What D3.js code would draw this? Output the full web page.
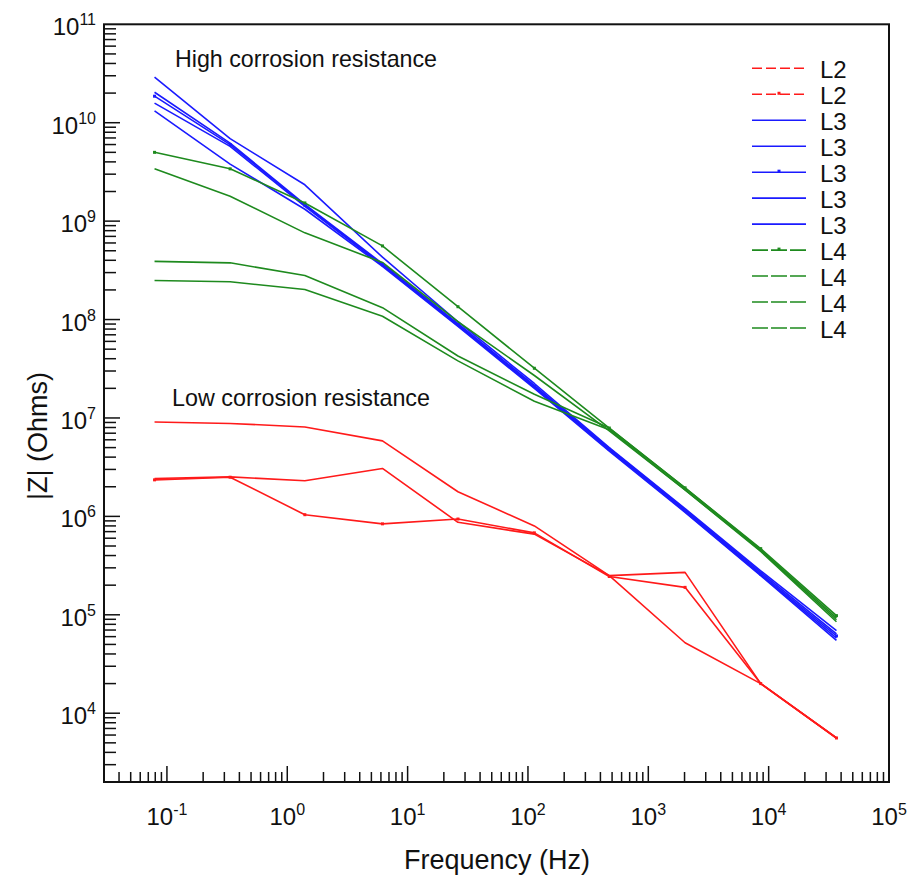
<!DOCTYPE html>
<html>
<head>
<meta charset="utf-8">
<script src="https://cdnjs.cloudflare.com/ajax/libs/d3/7.8.5/d3.min.js"></script>
<style>
	body { margin: 0; background: #fff; }
	text { font-family: "Liberation Sans", Arial, sans-serif; fill: #111; }
</style>
</head>
<body>
<svg id="chart" width="911" height="879"></svg>
<script>

// frequency points (Hz), shared by every curve
var freqs = [0.0789, 0.335, 1.40, 6.18, 26.2, 113, 474, 2020, 8590, 36600];

// |Z| (Ohms)
var l2a = [9.1e6, 8.8e6, 8.1e6, 5.85e6, 1.78e6, 8.0e5, 2.5e5, 5.2e4, 2.0e4, 5.6e3];
var l2b = [2.43e6, 2.52e6, 2.30e6, 3.07e6, 8.7e5, 6.6e5, 2.5e5, 2.7e5, 2.0e4, 5.6e3];
var l2c = [2.35e6, 2.5e6, 1.04e6, 8.4e5, 9.4e5, 6.8e5, 2.45e5, 1.9e5, 2.0e4, 5.6e3];

var l3a = [2.9e10, 6.9e9, 2.34e9, 4.3e8, 9.5e7, 2.24e7, 5.0e6, 1.2e6, 2.8e5, 6.9e4];
var l3b = [2.04e10, 6.2e9, 1.48e9, 3.7e8, 9.1e7, 2.14e7, 4.9e6, 1.17e6, 2.7e5, 6.4e4];
var l3c = [1.86e10, 6.0e9, 1.45e9, 3.6e8, 8.9e7, 2.1e7, 4.8e6, 1.15e6, 2.6e5, 6.1e4];
var l3d = [1.58e10, 5.75e9, 1.41e9, 3.55e8, 8.7e7, 2.04e7, 4.7e6, 1.12e6, 2.55e5, 5.8e4];
var l3e = [1.32e10, 3.8e9, 1.32e9, 3.47e8, 8.5e7, 2.0e7, 4.6e6, 1.1e6, 2.5e5, 5.5e4];

var l4a = [5.0e9, 3.4e9, 1.53e9, 5.6e8, 1.35e8, 3.2e7, 7.9e6, 1.95e6, 4.7e5, 9.8e4];
var l4b = [3.4e9, 1.79e9, 7.6e8, 3.8e8, 9.5e7, 2.7e7, 7.4e6, 1.86e6, 4.5e5, 8.9e4];
var l4c = [3.9e8, 3.77e8, 2.8e8, 1.32e8, 4.26e7, 1.74e7, 7.9e6, 1.95e6, 4.6e5, 9.3e4];
var l4d = [2.49e8, 2.42e8, 2.02e8, 1.08e8, 3.8e7, 1.48e7, 7.6e6, 1.86e6, 4.4e5, 8.5e4];

var seriesGroups = ["L2", "L2", "L2", "L3", "L3", "L3", "L3", "L3", "L4", "L4", "L4", "L4"];
var seriesValues = [l2a, l2b, l2c, l3a, l3b, l3c, l3d, l3e, l4a, l4b, l4c, l4d];

// legend as printed in the figure
var legendLabels = ["L2", "L2", "L3", "L3", "L3", "L3", "L3", "L4", "L4", "L4", "L4"];

var xExponents = [-1, 0, 1, 2, 3, 4, 5];
var yExponents = [4, 5, 6, 7, 8, 9, 10, 11];

var xTitle = "Frequency (Hz)";
var yTitle = "|Z| (Ohms)";
var noteHigh = "High corrosion resistance";
var noteLow = "Low corrosion resistance";

(function () {

	var colors = { "L2": "#ff1a1a", "L3": "#1a1aff", "L4": "#1e8a1e" };
	var legendDash = { "L2": "10,4", "L3": null, "L4": "16,3" };
	var markerRows = [1, 4, 7]; // legend rows drawn with a small dot
	var markerSeries = [2, 5, 8]; // curves drawn with dots at their points

	var m = { left: 104, right: 889, top: 24.3, bottom: 782 };

	var svg = d3.select("#chart");

	var x = d3.scaleLog().domain([0.03, 1e5]).range([m.left, m.right]);
	var y = d3.scaleLog().domain([2000, 1e11]).range([m.bottom, m.top]);

	function isMajor(d) {
		var l = Math.log10(d);
		return Math.abs(l - Math.round(l)) < 1e-6;
	}

	// ticks (inward, bottom and left only)
	var ticks = svg.append("g").attr("stroke", "#111").attr("stroke-width", 1.5);

	ticks.selectAll("line.xt")
		.data(x.ticks().filter(function (d) { return x(d) > m.left + 1 && x(d) < m.right - 1; }))
		.enter().append("line")
		.attr("class", "xt")
		.attr("x1", function (d) { return x(d); })
		.attr("x2", function (d) { return x(d); })
		.attr("y1", m.bottom)
		.attr("y2", function (d) { return m.bottom - (isMajor(d) ? 16 : 10); });

	ticks.selectAll("line.yt")
		.data(y.ticks().filter(function (d) { return y(d) > m.top + 1 && y(d) < m.bottom - 1; }))
		.enter().append("line")
		.attr("class", "yt")
		.attr("x1", m.left)
		.attr("x2", function (d) { return m.left + (isMajor(d) ? 16 : 12); })
		.attr("y1", function (d) { return y(d); })
		.attr("y2", function (d) { return y(d); });

	// frame
	svg.append("rect")
		.attr("x", m.left).attr("y", m.top)
		.attr("width", m.right - m.left).attr("height", m.bottom - m.top)
		.attr("fill", "none").attr("stroke", "#111").attr("stroke-width", 2);

	// tick labels
	var xl = svg.selectAll("text.xl")
		.data(xExponents)
		.enter().append("text")
		.attr("class", "xl")
		.attr("x", function (d) { return x(Math.pow(10, d)); })
		.attr("y", 825)
		.attr("text-anchor", "middle")
		.style("font-size", "24px");
	xl.append("tspan").text("10");
	xl.append("tspan").attr("dy", -10).style("font-size", "16px").text(function (d) { return d; });

	var yl = svg.selectAll("text.yl")
		.data(yExponents)
		.enter().append("text")
		.attr("class", "yl")
		.attr("x", 96)
		.attr("y", function (d) { return y(Math.pow(10, d)) + 11; })
		.attr("text-anchor", "end")
		.style("font-size", "24px");
	yl.append("tspan").text("10");
	yl.append("tspan").attr("dy", -10).style("font-size", "16px").text(function (d) { return d; });

	// axis titles
	svg.append("text")
		.attr("x", 497).attr("y", 869)
		.attr("text-anchor", "middle")
		.style("font-size", "27px")
		.text(xTitle);

	svg.append("text")
		.attr("transform", "translate(47,436) rotate(-90)")
		.attr("text-anchor", "middle")
		.style("font-size", "27px")
		.text(yTitle);

	// curves
	var line = d3.line()
		.x(function (d) { return x(d[0]); })
		.y(function (d) { return y(d[1]); });

	var curves = seriesValues.map(function (vals, i) {
		return {
			group: seriesGroups[i],
			index: i,
			points: freqs.map(function (f, j) { return [f, vals[j]]; })
		};
	});

	var curveG = svg.append("g");

	curveG.selectAll("path.curve")
		.data(curves)
		.enter().append("path")
		.attr("class", "curve")
		.attr("d", function (d) { return line(d.points); })
		.attr("fill", "none")
		.attr("stroke", function (d) { return colors[d.group]; })
		.attr("stroke-width", 1.6)
		.attr("stroke-linejoin", "round");

	curves.filter(function (d) { return markerSeries.indexOf(d.index) >= 0; }).forEach(function (c) {
		curveG.selectAll(null)
			.data(c.points)
			.enter().append("rect")
			.attr("x", function (d) { return x(d[0]) - 1.5; })
			.attr("y", function (d) { return y(d[1]) - 1.5; })
			.attr("width", 3).attr("height", 3)
			.attr("fill", colors[c.group]);
	});

	// notes
	svg.append("text")
		.attr("x", 175).attr("y", 67)
		.attr("textLength", 262).attr("lengthAdjust", "spacingAndGlyphs")
		.style("font-size", "24px")
		.text(noteHigh);

	svg.append("text")
		.attr("x", 172).attr("y", 406)
		.attr("textLength", 258).attr("lengthAdjust", "spacingAndGlyphs")
		.style("font-size", "24px")
		.text(noteLow);

	// legend
	var rows = svg.append("g").selectAll("g.row")
		.data(legendLabels)
		.enter().append("g")
		.attr("class", "row")
		.attr("transform", function (d, i) { return "translate(0," + (68.3 + i * 25.97) + ")"; });

	rows.append("line")
		.attr("x1", 752).attr("x2", 806)
		.attr("y1", 0).attr("y2", 0)
		.attr("stroke", function (d) { return colors[d]; })
		.attr("stroke-width", 1.6)
		.attr("stroke-dasharray", function (d) { return legendDash[d]; });

	rows.filter(function (d, i) { return markerRows.indexOf(i) >= 0; })
		.append("rect")
		.attr("x", 777.5).attr("y", -2.5)
		.attr("width", 3).attr("height", 3)
		.attr("fill", function (d) { return colors[d]; });

	rows.append("text")
		.attr("x", 820).attr("y", 10)
		.style("font-size", "24px")
		.text(function (d) { return d; });

})();

</script>
</body>
</html>
